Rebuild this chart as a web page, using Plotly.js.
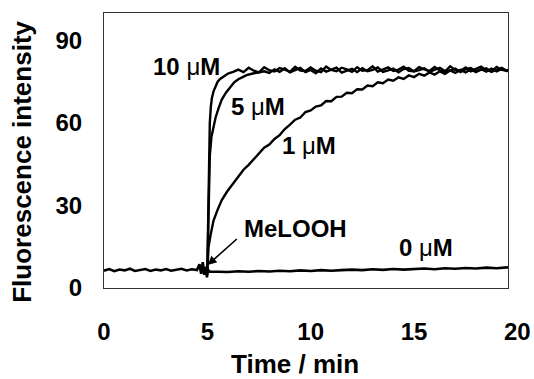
<!DOCTYPE html>
<html>
<head>
<meta charset="utf-8">
<script src="https://cdn.plot.ly/plotly-3.0.1.min.js"></script>
<style>html,body{margin:0;padding:0;background:#fff;}</style>
</head>
<body>
<div id="chart" style="width:534px;height:379px;"></div>
<script>
// ---- data ----
// 0 uM trace (also carries the shared pre-injection baseline)
const t0 = [0,0.25,0.5,0.75,1,1.25,1.5,1.75,2,2.25,2.5,2.75,3,3.25,3.5,3.75,4,4.25,4.5,4.62,4.7,4.78,4.85,4.92,4.98,5.04,5.1,5.5,6,6.5,7,7.5,8,8.5,9,9.5,10,10.5,11,11.5,12,12.5,13,13.5,14,14.5,15,15.5,16,16.5,17,17.5,18,18.5,19,19.5,20];
const y0 = [6.3,6.9,6.1,6.7,6.4,7.0,6.2,6.6,6.9,6.2,6.7,6.4,6.9,6.3,6.6,7.0,6.4,6.8,6.5,8.6,5.2,9.4,4.8,7.8,3.9,6.6,6.0,6.0,5.8,6.1,5.9,6.2,6.0,6.3,6.1,6.4,6.2,6.5,6.3,6.5,6.7,6.5,6.8,6.6,6.9,6.7,6.9,7.1,6.8,7.2,7.0,7.3,7.1,7.4,7.2,7.5,7.3];

// shared plateau time grid (min)
const tPlat = [6,6.25,6.5,6.75,7,7.25,7.5,7.75,8,8.25,8.5,8.75,9,9.25,9.5,9.75,10,10.25,10.5,10.75,11,11.25,11.5,11.75,12,12.25,12.5,12.75,13,13.25,13.5,13.75,14,14.25,14.5,14.75,15,15.25,15.5,15.75,16,16.25,16.5,16.75,17,17.25,17.5,17.75,18,18.25,18.5,18.75,19,19.25,19.5,19.75,20];

// 10 uM
const t10Rise = [5.0,5.04,5.08,5.12,5.17,5.22,5.3,5.4,5.5,5.62,5.75,5.88];
const y10Rise = [6.0,22,48,60,66,69,71.5,73.5,75,76,76.6,77.3];
const y10Plat = [78.0,78.6,79.4,78.5,80.1,79.0,78.4,80.3,79.2,78.7,
                 80.0,79.4,78.6,80.4,79.1,78.9,80.2,79.0,78.5,80.5,
                 79.3,78.8,80.1,79.5,78.6,80.3,79.0,79.2,80.6,78.7,
                 79.6,80.2,78.9,79.4,80.5,79.0,78.8,80.3,79.5,78.9,
                 80.4,79.1,78.7,80.6,79.3,79.0,80.2,78.8,79.7,80.5,
                 79.1,78.8,80.4,79.3,79.0,80.3,79.4];

// 5 uM
const t5Rise = [5.0,5.04,5.08,5.12,5.2,5.3,5.4,5.55,5.7,5.9,6.1,6.3,6.5,6.7,6.9,7.2,7.5,7.75];
const y5Rise = [6.0,24,40,48,55,59,62,65.5,68.5,71,73,74.8,75.9,76.8,77.4,78.0,78.4,78.8];
const t5Plat = [8,8.25,8.5,8.75,9,9.25,9.5,9.75,10,10.25,10.5,10.75,11,11.25,11.5,11.75,12,12.25,12.5,12.75,13,13.25,13.5,13.75,14,14.25,14.5,14.75,15,15.25,15.5,15.75,16,16.25,16.5,16.75,17,17.25,17.5,17.75,18,18.25,18.5,18.75,19,19.25,19.5,19.75,20];
const y5Plat = [78.2,79.5,78.6,79.9,78.4,79.2,80.0,78.5,79.3,78.1,
                79.8,78.7,79.4,80.1,78.3,79.0,79.7,78.5,79.9,78.8,
                79.3,80.2,78.6,79.1,79.8,78.4,79.6,80.0,78.7,79.2,
                79.9,78.6,79.4,80.1,78.9,79.0,79.8,78.5,79.6,80.0,
                78.8,79.3,79.9,78.6,79.5,80.1,78.9,79.2,79.7];

// 1 uM
const t1 = [5.0,5.03,5.06,5.15,5.3,5.5,5.7,5.95,6.25,6.5,6.75,7,7.25,7.5,7.75,8,8.25,8.5,8.75,9,9.25,9.5,9.75,10,10.25,10.5,10.75,11,11.25,11.5,11.75,12,12.25,12.5,12.75,13,13.25,13.5,13.75,14,14.25,14.5,14.75,15,15.25,15.5,15.75,16,16.25,16.5,16.75,17,17.25,17.5,17.75,18,18.25,18.5,18.75,19,19.25,19.5,19.75,20];
const y1 = [6,11,15,19,24.5,28.5,32,35,38,40.5,
            43,44.8,47,48.8,51,52.2,54.2,55.6,57.8,59.4,
            61.2,62.0,64.0,64.6,66.0,66.4,68.0,67.9,69.5,69.6,
            71.0,70.8,72.3,72.2,73.6,73.4,74.8,74.5,75.8,75.4,
            76.6,76.0,77.3,76.7,77.9,77.2,78.4,77.6,78.8,77.9,
            79.1,78.2,79.3,78.4,79.5,78.5,79.6,78.7,79.8,78.8,
            79.7,78.9,79.9,79.0];

const xTicks = [0,5,10,15,20];
const yTicks = [0,30,60,90];

// ---- traces ----
const FONT = 'Liberation Sans, Arial, Helvetica, sans-serif';
const line = {color:'#000', width:2.4};
const traces = [
  {x:t0, y:y0, mode:'lines', line:{color:'#000', width:2.6}, name:'0 μM'},
  {x:t10Rise.concat(tPlat), y:y10Rise.concat(y10Plat), mode:'lines', line:line, name:'10 μM'},
  {x:t5Rise.concat(t5Plat), y:y5Rise.concat(y5Plat), mode:'lines', line:line, name:'5 μM'},
  {x:t1, y:y1, mode:'lines', line:line, name:'1 μM'}
];

const XMAX = 19.55;
const tickFont = {family:FONT, size:24, color:'#000', weight:'bold'};
function lbl(text, x, y){
  return {text:text, x:x, y:y, xref:'x', yref:'y', showarrow:false,
          font:{family:FONT, size:24, color:'#000'}, xanchor:'center', yanchor:'middle'};
}
const conc = s => '<b>' + s + ' </b>μ<b>M</b>';

const layout = {
  width:534, height:379,
  margin:{l:104, r:26, t:13, b:91},
  paper_bgcolor:'#fff', plot_bgcolor:'#fff',
  showlegend:false,
  font:{family:FONT, color:'#000'},
  xaxis:{range:[0, XMAX], tickvals:xTicks, ticktext:xTicks.map(String),
         showgrid:false, zeroline:false, showline:true, mirror:true,
         linecolor:'#333', linewidth:1, ticks:'', tickfont:tickFont,
         ticklabelstandoff:22},
  yaxis:{range:[0,100], tickvals:yTicks, ticktext:yTicks.map(String),
         showgrid:false, zeroline:false, showline:true, mirror:true,
         linecolor:'#333', linewidth:1, ticks:'', tickfont:tickFont,
         ticklabelstandoff:16},
  annotations:[
    lbl(conc('10'), 3.97, 80.5),
    lbl(conc('5'), 7.43, 65.9),
    lbl(conc('1'), 9.9, 52),
    lbl('<b>MeLOOH</b>', 9.27, 21.8),
    lbl(conc('0'), 15.56, 14.9),
    {x:5.02, y:8.4, ax:6.5, ay:18.3, xref:'x', yref:'y', axref:'x', ayref:'y',
     text:'', showarrow:true, arrowhead:2, arrowsize:1.1, arrowwidth:1.6, arrowcolor:'#000'},
    // tick label for 20 that sits just outside the clipped frame
    {text:'<b>20</b>', x:20/XMAX, y:-0.157, xref:'paper', yref:'paper', showarrow:false,
     font:{family:FONT, size:24, color:'#000'}, xanchor:'center', yanchor:'middle'},
    // axis titles
    {text:'<b>Time / min</b>', x:0.473, y:-0.278, xref:'paper', yref:'paper', showarrow:false,
     font:{family:FONT, size:26, color:'#000'}, xanchor:'center', yanchor:'middle'},
    {text:'<b>Fluorescence intensity</b>', x:-0.203, y:0.459, xref:'paper', yref:'paper', showarrow:false,
     textangle:-90, font:{family:FONT, size:26, color:'#000'}, xanchor:'center', yanchor:'middle'}
  ]
};

Plotly.newPlot('chart', traces, layout, {staticPlot:true, displayModeBar:false});
</script>
</body>
</html>
